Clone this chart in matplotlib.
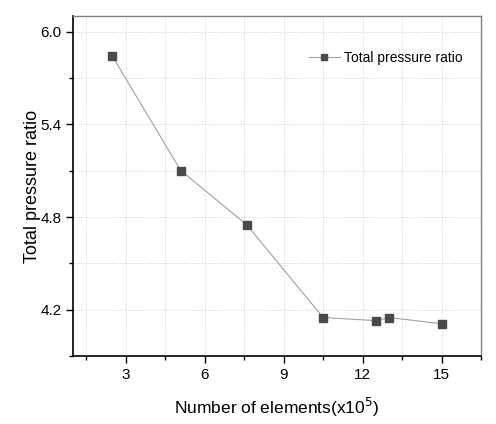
import matplotlib.pyplot as plt
from matplotlib.ticker import MultipleLocator
from matplotlib.lines import Line2D

plt.rcParams['font.family'] = ['Liberation Sans', 'DejaVu Sans']

elements = [2.5, 5.1, 7.6, 10.5, 12.5, 13.0, 15.0]
pressure_ratio = [5.84, 5.10, 4.75, 4.15, 4.13, 4.15, 4.11]

fig = plt.figure(figsize=(4.96, 4.24), dpi=100)
ax = fig.add_axes([0.147, 0.160, 0.823, 0.802])

ax.plot(elements, pressure_ratio, color='#a0a0a0', linewidth=0.8,
        marker='s', markersize=6, markerfacecolor='#4a4a4a',
        markeredgecolor='#4a4a4a')

ax.set_xlim(1, 16.5)
ax.set_ylim(3.9, 6.1)
ax.xaxis.set_major_locator(MultipleLocator(3))
ax.xaxis.set_minor_locator(MultipleLocator(1.5))
ax.yaxis.set_major_locator(MultipleLocator(0.6))
ax.yaxis.set_minor_locator(MultipleLocator(0.3))
ax.yaxis.set_major_formatter(plt.FormatStrFormatter('%.1f'))
ax.grid(True, which='both', color='#d0d0d0', linestyle=':', linewidth=0.7)

ax.tick_params(which='major', direction='out', length=5, width=1, labelsize=11)
ax.tick_params(axis='y', which='major', pad=3)
ax.tick_params(which='minor', direction='out', length=3, width=1)
for s in ['left', 'bottom']:
    ax.spines[s].set_linewidth(1.2)
for s in ['top', 'right']:
    ax.spines[s].set_color('#808080')
    ax.spines[s].set_linewidth(1.0)

ax.set_xlabel('Number of elements(x10$^5$)', fontsize=12.5, labelpad=10)
ax.set_ylabel('Total pressure ratio', fontsize=13, labelpad=0)

handle = Line2D([], [], color='#a0a0a0', linewidth=0.8, marker='s',
                markersize=4.5, markerfacecolor='#4a4a4a',
                markeredgecolor='#4a4a4a')
ax.legend([handle], ['Total pressure ratio'], loc='upper right',
          frameon=False, fontsize=10, bbox_to_anchor=(0.985, 0.935),
          handlelength=2.2, handletextpad=0.3)

plt.savefig('out.png', dpi=100)
